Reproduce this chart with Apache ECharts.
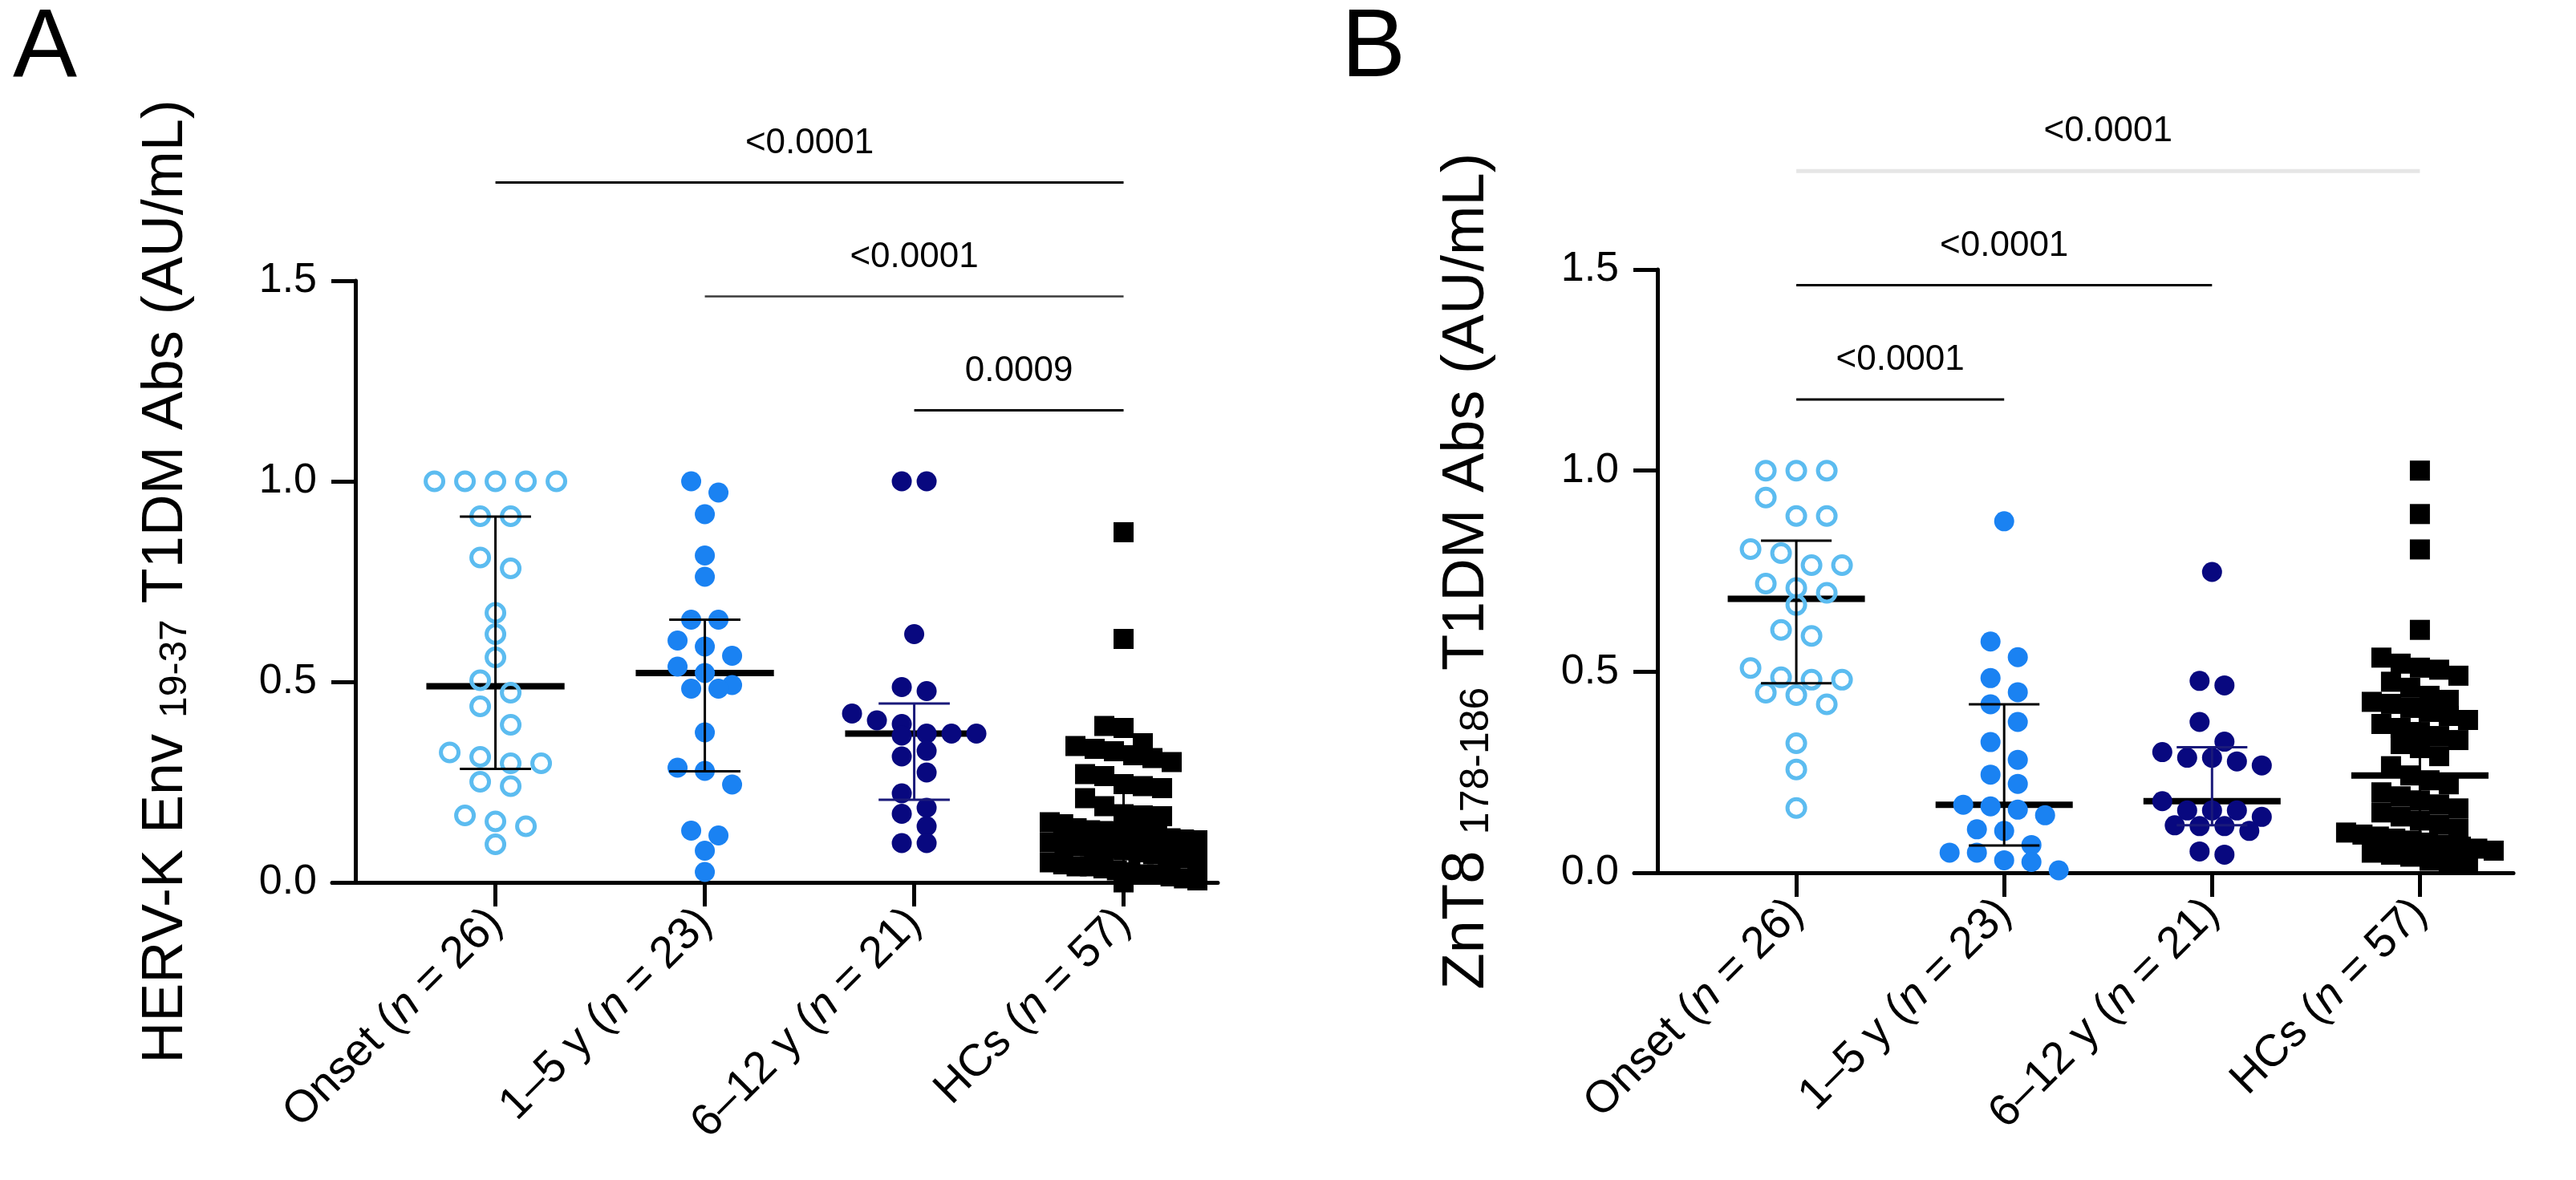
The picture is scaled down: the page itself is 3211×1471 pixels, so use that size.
<!DOCTYPE html>
<html>
<head>
<meta charset="utf-8">
<script src="https://cdn.jsdelivr.net/npm/echarts@6/dist/echarts.min.js"></script>
<style>
html,body{margin:0;padding:0;background:#ffffff;}
#c{width:3211px;height:1471px;}
</style>
</head>
<body>
<div id="c"></div>
<script>
// ---------------- DATA ----------------
const categories = ['Onset', '1–5 y', '6–12 y', 'HCs'];
const groupSizes = [26, 23, 21, 57];
const yTicks = [0, 0.5, 1.0, 1.5];

// Panel A: HERV-K Env 19-37 T1DM Abs (AU/mL)
const herv_onset = [1.0, 1.0, 1.0, 1.0, 1.0, 0.913, 0.913, 0.81, 0.783, 0.672, 0.619, 0.561, 0.504, 0.473, 0.439, 0.393, 0.324, 0.313, 0.297, 0.297, 0.251, 0.24, 0.167, 0.152, 0.14, 0.095];
const herv_1to5 = [1.0, 0.972, 0.918, 0.815, 0.762, 0.655, 0.655, 0.603, 0.588, 0.565, 0.538, 0.522, 0.492, 0.483, 0.483, 0.374, 0.286, 0.278, 0.244, 0.129, 0.117, 0.079, 0.026];
const herv_6to12 = [1.0, 1.0, 0.619, 0.487, 0.477, 0.421, 0.404, 0.395, 0.371, 0.371, 0.371, 0.366, 0.328, 0.314, 0.274, 0.222, 0.186, 0.171, 0.14, 0.098, 0.098];
const herv_hcs = [0.873, 0.607, 0.39, 0.385, 0.347, 0.34, 0.333, 0.327, 0.317, 0.31, 0.3, 0.27, 0.265, 0.245, 0.24, 0.235, 0.21, 0.19, 0.17, 0.167, 0.165, 0.15, 0.145, 0.135, 0.13, 0.128, 0.125, 0.122, 0.12, 0.115, 0.11, 0.107, 0.105, 0.1, 0.095, 0.09, 0.087, 0.085, 0.08, 0.075, 0.07, 0.065, 0.06, 0.055, 0.05, 0.045, 0.04, 0.04, 0.035, 0.03, 0.025, 0.02, 0.02, 0.015, 0.01, 0.005, 0.0];
const herv_median = [0.489, 0.522, 0.371, 0.12];
const herv_q1 = [0.283, 0.277, 0.206, 0.04];
const herv_q3 = [0.912, 0.655, 0.446, 0.25];
const herv_pairs = [[0, 3], [1, 3], [2, 3]];
const herv_pvalues = ['<0.0001', '<0.0001', '0.0009'];

// Panel B: ZnT8 178-186 T1DM Abs (AU/mL)
const znt8_onset = [1.0, 1.0, 1.0, 0.933, 0.887, 0.887, 0.805, 0.795, 0.765, 0.765, 0.719, 0.708, 0.696, 0.666, 0.604, 0.589, 0.509, 0.486, 0.48, 0.48, 0.448, 0.442, 0.419, 0.322, 0.257, 0.161];
const znt8_1to5 = [0.874, 0.575, 0.536, 0.484, 0.449, 0.419, 0.375, 0.325, 0.281, 0.244, 0.221, 0.169, 0.165, 0.157, 0.143, 0.108, 0.104, 0.069, 0.05, 0.05, 0.031, 0.027, 0.006];
const znt8_6to12 = [0.748, 0.477, 0.466, 0.375, 0.326, 0.3, 0.286, 0.286, 0.277, 0.267, 0.178, 0.155, 0.155, 0.155, 0.139, 0.118, 0.116, 0.116, 0.104, 0.053, 0.045];
const znt8_hcs = [1.0, 0.892, 0.804, 0.604, 0.535, 0.52, 0.51, 0.505, 0.49, 0.475, 0.46, 0.44, 0.43, 0.425, 0.42, 0.41, 0.40, 0.39, 0.38, 0.37, 0.36, 0.35, 0.34, 0.33, 0.32, 0.31, 0.29, 0.265, 0.242, 0.23, 0.22, 0.2, 0.19, 0.18, 0.17, 0.16, 0.15, 0.14, 0.13, 0.12, 0.11, 0.1, 0.095, 0.09, 0.085, 0.08, 0.075, 0.07, 0.065, 0.06, 0.055, 0.05, 0.045, 0.04, 0.03, 0.025, 0.02];
const znt8_median = [0.681, 0.169, 0.178, 0.242];
const znt8_q1 = [0.471, 0.068, 0.118, 0.085];
const znt8_q3 = [0.826, 0.419, 0.312, 0.429];
const znt8_pairs = [[0, 3], [0, 2], [0, 1]];
const znt8_pvalues = ['<0.0001', '<0.0001', '<0.0001'];

// ---------------- STYLE ----------------
const FONT = "'Liberation Sans', Arial, Helvetica, sans-serif";
const groupStyles = [
  { symbol: 'circle', size: 22, step: 38, diam: 26, itemStyle: { color: 'rgba(0,0,0,0)', borderColor: '#5cbcf0', borderWidth: 5, opacity: 1 } },
  { symbol: 'circle', size: 25, step: 34, diam: 25, itemStyle: { color: '#1a82f2', opacity: 1 } },
  { symbol: 'circle', size: 25, step: 31, diam: 25, itemStyle: { color: '#08087f', opacity: 1 } },
  { symbol: 'rect', size: 25, step: 24, diam: 24, itemStyle: { color: '#000000', opacity: 1 } }
];
const whiskerColors = ['#000000', '#000000', '#1a1a7a', '#000000'];

const panels = [
  {
    groups: [herv_onset, herv_1to5, herv_6to12, herv_hcs],
    median: herv_median, q1: herv_q1, q3: herv_q3,
    pairs: herv_pairs, pvalues: herv_pvalues,
    bracketColors: ['#000000', '#3a3a3a', '#000000'], bracketWidths: [3, 2.5, 3],
    nameMain1: 'HERV-K Env ', nameSub: '19-37', nameMain2: ' T1DM Abs (AU/mL)', nameSize: 72,
    grid: { left: 414, top: 350, width: 1104, height: 750 }
  },
  {
    groups: [znt8_onset, znt8_1to5, znt8_6to12, znt8_hcs],
    median: znt8_median, q1: znt8_q1, q3: znt8_q3,
    pairs: znt8_pairs, pvalues: znt8_pvalues,
    bracketColors: ['#e6e6e6', '#000000', '#000000'], bracketWidths: [5, 3, 3],
    nameMain1: 'ZnT8 ', nameSub: '178-186', nameMain2: ' T1DM Abs (AU/mL)', nameSize: 74,
    grid: { left: 2037, top: 336, width: 1096, height: 752 }
  }
];

function catLabel(v) {
  const i = Math.round(v);
  return categories[i] + ' ({i|n} = ' + groupSizes[i] + ')';
}

function xAxisFor(g) {
  return {
    type: 'value', gridIndex: g, min: -0.78, max: 3.45,
    axisLine: { show: true, onZero: false, lineStyle: { color: '#000', width: 5 } },
    axisTick: { show: true, inside: false, length: 30, customValues: [0, 1, 2, 3], lineStyle: { color: '#000', width: 5 } },
    axisLabel: {
      show: true, rotate: 45, margin: 42, customValues: [0, 1, 2, 3],
      formatter: catLabel, fontSize: 56, fontFamily: FONT, color: '#000',
      rich: { i: { fontStyle: 'italic', fontSize: 56, fontFamily: FONT, color: '#000' } }
    },
    splitLine: { show: false }
  };
}

function yAxisFor(g, p) {
  const ns = p.nameSize;
  return {
    type: 'value', gridIndex: g, position: 'left', offset: -29,
    min: yTicks[0], max: yTicks[yTicks.length - 1], interval: yTicks[1] - yTicks[0],
    axisLine: { show: true, onZero: false, lineStyle: { color: '#000', width: 5 } },
    axisTick: { show: true, inside: false, length: 30, lineStyle: { color: '#000', width: 5 } },
    axisLabel: { margin: 48, fontSize: 52, fontFamily: FONT, color: '#000', formatter: v => v.toFixed(1) },
    splitLine: { show: false },
    name: '{m|' + p.nameMain1 + '}{s|' + p.nameSub + '}{m|' + p.nameMain2 + '}',
    nameLocation: 'middle', nameGap: 200, nameRotate: 90,
    nameTextStyle: {
      color: '#000', fontFamily: FONT,
      rich: {
        m: { fontSize: ns, lineHeight: ns, fontFamily: FONT, color: '#000' },
        s: { fontSize: Math.round(ns * 0.67), lineHeight: 12, verticalAlign: 'bottom', fontFamily: FONT, color: '#000' }
      }
    }
  };
}

const chart = echarts.init(document.getElementById('c'), null, { renderer: 'canvas', width: 3211, height: 1471 });

const baseOption = {
  backgroundColor: '#ffffff',
  animation: false,
  title: [
    { text: 'A', left: 16, top: 2, padding: 0, textStyle: { fontSize: 120, fontWeight: 'normal', fontFamily: FONT, color: '#000' } },
    { text: 'B', left: 1672, top: 2, padding: 0, textStyle: { fontSize: 120, fontWeight: 'normal', fontFamily: FONT, color: '#000' } }
  ],
  grid: panels.map(p => Object.assign({ containLabel: false }, p.grid)),
  xAxis: panels.map((p, g) => xAxisFor(g)),
  yAxis: panels.map((p, g) => yAxisFor(g, p)),
  series: []
};
chart.setOption(baseOption);

// Beeswarm layout computed from the library's pixel scale
function swarm(values, pxX, pxY, st, maxHalf) {
  const idx = values.map((v, i) => i).sort((a, b) => values[b] - values[a]);
  const offsets = new Array(values.length).fill(0);
  let row = [], start = null;
  const flush = () => {
    const k = row.length;
    let step = st.step;
    if (k > 1 && (k - 1) * step / 2 > maxHalf) step = 2 * maxHalf / (k - 1);
    row.forEach((id, j) => { offsets[id] = (j - (k - 1) / 2) * step / pxX; });
    row = [];
  };
  idx.forEach(i => {
    if (row.length && (start - values[i]) * pxY >= st.diam) flush();
    if (!row.length) start = values[i];
    row.push(i);
  });
  if (row.length) flush();
  return offsets;
}

const series = [];
panels.forEach((p, g) => {
  const p00 = chart.convertToPixel({ gridIndex: g }, [0, 0]);
  const p11 = chart.convertToPixel({ gridIndex: g }, [1, 1]);
  const pxX = Math.abs(p11[0] - p00[0]);
  const pxY = Math.abs(p00[1] - p11[1]);

  // median lines (beneath points)
  series.push({
    type: 'custom', xAxisIndex: g, yAxisIndex: g, z: 2, silent: true,
    data: categories.map((c, i) => [i, p.median[i]]),
    renderItem: (params, api) => {
      const m = api.coord([api.value(0), api.value(1)]);
      const half = api.size([0.33, 0])[0];
      return { type: 'line', shape: { x1: m[0] - half, y1: m[1], x2: m[0] + half, y2: m[1] }, style: { stroke: '#000', lineWidth: 8 } };
    }
  });

  // points
  p.groups.forEach((vals, gi) => {
    const st = groupStyles[gi];
    const offs = swarm(vals, pxX, pxY, st, 92);
    series.push({
      type: 'scatter', xAxisIndex: g, yAxisIndex: g, z: 3, silent: true, clip: false,
      symbol: st.symbol, symbolSize: st.size, itemStyle: st.itemStyle,
      emphasis: { disabled: true },
      data: vals.map((v, i) => [gi + offs[i], v])
    });
  });

  // whiskers (interquartile range)
  series.push({
    type: 'custom', xAxisIndex: g, yAxisIndex: g, z: 4, silent: true,
    data: categories.map((c, i) => [i, p.q1[i], p.q3[i]]),
    renderItem: (params, api) => {
      const i = api.value(0);
      const lo = api.coord([i, api.value(1)]);
      const hi = api.coord([i, api.value(2)]);
      const cap = api.size([0.17, 0])[0];
      const col = whiskerColors[params.dataIndex];
      const s = { stroke: col, lineWidth: 3 };
      return {
        type: 'group', children: [
          { type: 'line', shape: { x1: lo[0], y1: lo[1], x2: hi[0], y2: hi[1] }, style: s },
          { type: 'line', shape: { x1: lo[0] - cap, y1: lo[1], x2: lo[0] + cap, y2: lo[1] }, style: s },
          { type: 'line', shape: { x1: hi[0] - cap, y1: hi[1], x2: hi[0] + cap, y2: hi[1] }, style: s }
        ]
      };
    }
  });

  // significance brackets
  series.push({
    type: 'custom', xAxisIndex: g, yAxisIndex: g, z: 5, silent: true, clip: false,
    data: p.pairs.map((pr, k) => [pr[0], pr[1], 1.745 - k * 0.284]),
    renderItem: (params, api) => {
      const k = params.dataIndex;
      const a = api.coord([api.value(0), api.value(2)]);
      const b = api.coord([api.value(1), api.value(2)]);
      return {
        type: 'group', children: [
          { type: 'line', shape: { x1: a[0], y1: a[1], x2: b[0], y2: b[1] }, style: { stroke: p.bracketColors[k], lineWidth: p.bracketWidths[k] } },
          { type: 'text', style: { text: p.pvalues[k], x: (a[0] + b[0]) / 2, y: a[1] - 49, align: 'center', verticalAlign: 'middle', fontSize: 44, fontFamily: FONT, fill: '#000' } }
        ]
      };
    }
  });
});

chart.setOption({ series: series });
</script>
</body>
</html>
